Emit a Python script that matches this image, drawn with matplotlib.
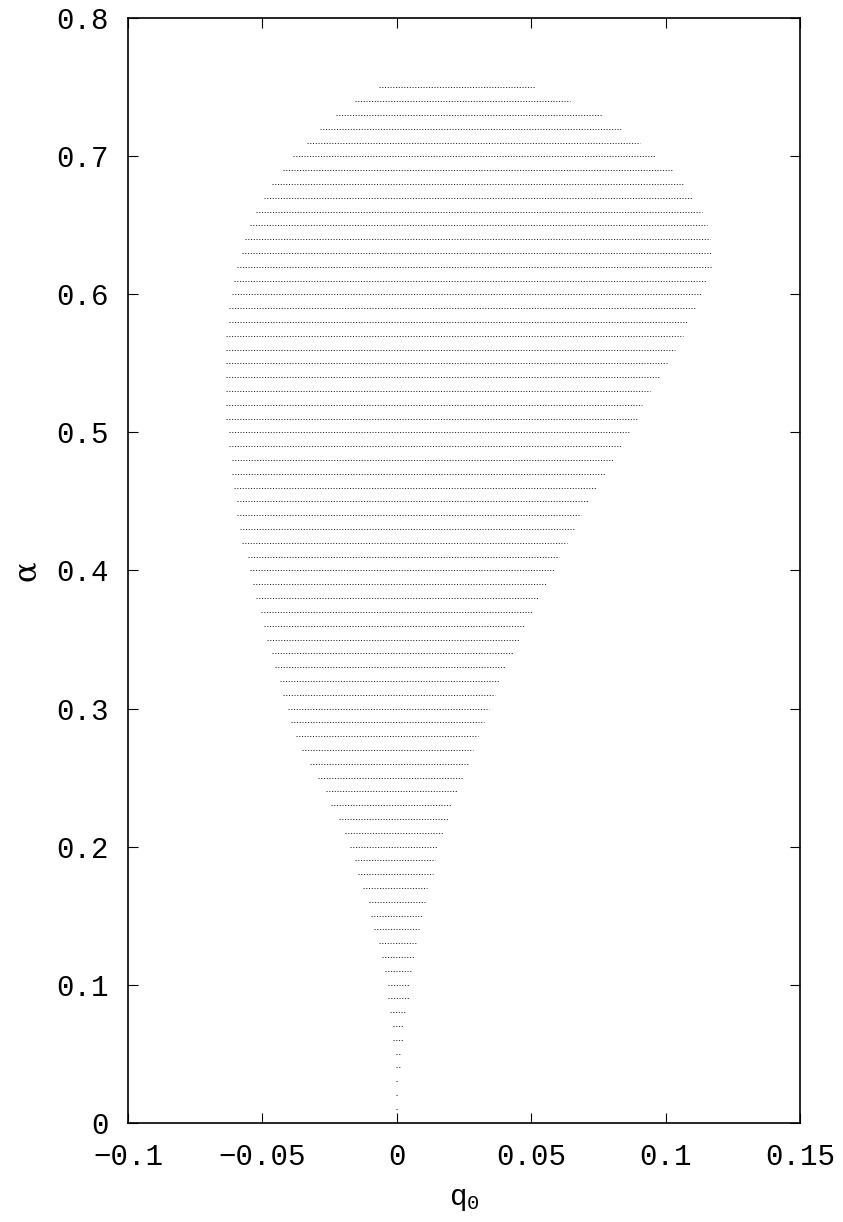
import numpy as np
import matplotlib
matplotlib.use("Agg")
from matplotlib import pyplot as plt

# alpha levels (rows) and the q0 extent of each row
alpha = [0.01, 0.02, 0.03, 0.04, 0.05, 0.06, 0.07, 0.08, 0.09, 0.10,
         0.11, 0.12, 0.13, 0.14, 0.15, 0.16, 0.17, 0.18, 0.19, 0.20,
         0.21, 0.22, 0.23, 0.24, 0.25, 0.26, 0.27, 0.28, 0.29, 0.30,
         0.31, 0.32, 0.33, 0.34, 0.35, 0.36, 0.37, 0.38, 0.39, 0.40,
         0.41, 0.42, 0.43, 0.44, 0.45, 0.46, 0.47, 0.48, 0.49, 0.50,
         0.51, 0.52, 0.53, 0.54, 0.55, 0.56, 0.57, 0.58, 0.59, 0.60,
         0.61, 0.62, 0.63, 0.64, 0.65, 0.66, 0.67, 0.68, 0.69, 0.70,
         0.71, 0.72, 0.73, 0.74, 0.75]
q_min = [0.0, 0.0, 0.0, 0.0, 0.0, -0.001, -0.001, -0.002, -0.003, -0.003,
         -0.004, -0.005, -0.006, -0.008, -0.009, -0.010, -0.012, -0.014, -0.015, -0.017,
         -0.019, -0.021, -0.024, -0.026, -0.029, -0.032, -0.035, -0.037, -0.039, -0.040,
         -0.042, -0.043, -0.045, -0.046, -0.048, -0.049, -0.050, -0.052, -0.053, -0.054,
         -0.055, -0.057, -0.058, -0.059, -0.059, -0.060, -0.061, -0.061, -0.062, -0.062,
         -0.063, -0.063, -0.063, -0.063, -0.063, -0.063, -0.063, -0.062, -0.062, -0.061,
         -0.060, -0.059, -0.057, -0.056, -0.054, -0.052, -0.049, -0.046, -0.042, -0.038,
         -0.033, -0.028, -0.022, -0.015, -0.006]
q_max = [0.0, 0.0, 0.0, 0.001, 0.001, 0.002, 0.002, 0.003, 0.004, 0.004,
         0.005, 0.006, 0.007, 0.008, 0.009, 0.010, 0.011, 0.013, 0.014, 0.015,
         0.017, 0.019, 0.020, 0.022, 0.024, 0.026, 0.028, 0.030, 0.032, 0.034,
         0.036, 0.038, 0.040, 0.043, 0.045, 0.047, 0.050, 0.052, 0.055, 0.058,
         0.060, 0.063, 0.066, 0.068, 0.071, 0.074, 0.077, 0.080, 0.083, 0.086,
         0.089, 0.091, 0.094, 0.097, 0.100, 0.103, 0.106, 0.108, 0.111, 0.113,
         0.115, 0.117, 0.117, 0.116, 0.115, 0.113, 0.110, 0.106, 0.102, 0.096,
         0.090, 0.083, 0.076, 0.064, 0.051]

x_ticks = [-0.1, -0.05, 0, 0.05, 0.1, 0.15]
x_labels = ["\u22120.1", "\u22120.05", "0", "0.05", "0.1", "0.15"]
y_ticks = [0, 0.1, 0.2, 0.3, 0.4, 0.5, 0.6, 0.7, 0.8]
y_labels = ["0", "0.1", "0.2", "0.3", "0.4", "0.5", "0.6", "0.7", "0.8"]

plt.rcParams["font.family"] = ["Liberation Mono", "DejaVu Sans"]
plt.rcParams["mathtext.default"] = "regular"

fig = plt.figure(figsize=(8.43, 12.22), dpi=100)
ax = fig.add_axes([0.1517, 0.0813, 0.9489 - 0.1517, 0.985 - 0.0813])

# half a grid step either side so single-point rows still show a dot
half = 0.0004
ax.hlines(alpha, np.array(q_min) - half, np.array(q_max) + half,
          colors="black", linewidth=0.6, linestyles=(0, (1.3, 2.0)))

ax.set_xlim(-0.1, 0.15)
ax.set_ylim(0, 0.8)
ax.set_xticks(x_ticks)
ax.set_xticklabels(x_labels)
ax.set_yticks(y_ticks)
ax.set_yticklabels(y_labels)
ax.tick_params(direction="in", length=7, width=0.8, labelsize=21,
               top=True, right=True)
ax.tick_params(axis="x", pad=15)
ax.tick_params(axis="y", pad=14)
for s in ax.spines.values():
    s.set_linewidth(1.2)

ax.set_xlabel("q$_0$", fontsize=21, labelpad=10)
ax.set_ylabel("\u03b1", fontsize=22, family=["DejaVu Serif"], labelpad=10)

fig.savefig("out.png", dpi=100)
